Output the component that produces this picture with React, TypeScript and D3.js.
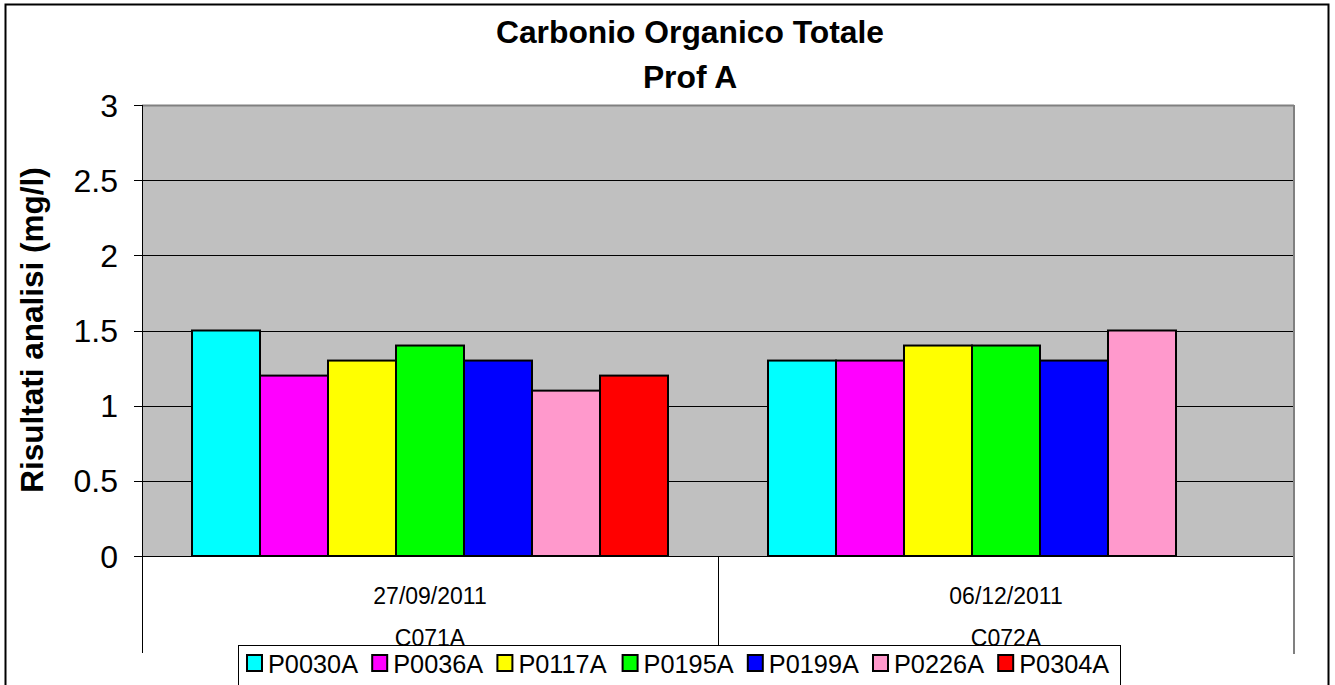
import React from "react";
import * as d3 from "d3";

const categories = ["27/09/2011", "06/12/2011"];
const campaigns = ["C071A", "C072A"];
const seriesNames = ["P0030A", "P0036A", "P0117A", "P0195A", "P0199A", "P0226A", "P0304A"];
const seriesColors = ["#00FFFF", "#FF00FF", "#FFFF00", "#00FF00", "#0000FF", "#FF99CC", "#FF0000"];
const valuesCat1 = [1.5, 1.2, 1.3, 1.4, 1.3, 1.1, 1.2];
const valuesCat2: (number | null)[] = [1.3, 1.3, 1.4, 1.4, 1.3, 1.5, null];
const yTicks = [0, 0.5, 1, 1.5, 2, 2.5, 3];

const W = 1335;
const H = 685;
const plot = { left: 142, right: 1294, top: 105, bottom: 556 };
const FONT = "Arial, 'Liberation Sans', Helvetica, sans-serif";

export default function App() {
  const values = [valuesCat1, valuesCat2];
  const x0 = d3.scaleBand<string>().domain(categories).range([plot.left, plot.right]).padding(0);
  const groupW = x0.bandwidth();
  const x1 = d3
    .scaleBand<string>()
    .domain(seriesNames)
    .range([50, groupW - 50])
    .padding(0);
  const y = d3.scaleLinear().domain([0, 3]).range([plot.bottom, plot.top]);

  const legendX = d3.scaleBand<string>().domain(seriesNames).range([247, 247 + 125.2 * 7]);

  return (
    <div style={{ position: "absolute", left: 0, top: 0 }}>
      <svg width={W} height={H} style={{ display: "block", fontFamily: FONT }}>
        <rect x={0} y={0} width={W} height={H} fill="#fff" />
        <rect x={5.5} y={4.5} width={1323} height={700} fill="#fff" stroke="#000" strokeWidth={2} />
        {/* Title */}
        <text x={690} y={43} textAnchor="middle" fontWeight="bold" fontSize={31.8}>
          Carbonio Organico Totale
        </text>
        <text x={690} y={88} textAnchor="middle" fontWeight="bold" fontSize={31.8}>
          Prof A
        </text>
        {/* Plot area */}
        <rect
          x={plot.left}
          y={plot.top}
          width={plot.right - plot.left}
          height={plot.bottom - plot.top}
          fill="#C0C0C0"
        />
        {/* gridlines */}
        {yTicks.map((t) => (
          <line
            key={"g" + t}
            x1={plot.left}
            x2={plot.right}
            y1={Math.round(y(t)) + 0.5}
            y2={Math.round(y(t)) + 0.5}
            stroke={t === 3 ? "#808080" : "#000"}
            strokeWidth={t === 3 ? 2 : 1}
          />
        ))}
        <line x1={plot.right} x2={plot.right} y1={plot.top} y2={plot.bottom} stroke="#808080" strokeWidth={2} />
        {/* Bars */}
        {categories.map((c, ci) =>
          seriesNames.map((s, si) => {
            const v = values[ci][si];
            if (v == null) return null;
            const bx = (x0(c) as number) + (x1(s) as number);
            return (
              <rect
                key={c + s}
                x={bx}
                y={y(v)}
                width={x1.bandwidth()}
                height={y(0) - y(v)}
                fill={seriesColors[si]}
                stroke="#000"
                strokeWidth={2}
              />
            );
          })
        )}
        {/* Y axis */}
        <line x1={plot.left + 0.5} x2={plot.left + 0.5} y1={plot.top} y2={653} stroke="#000" strokeWidth={1} />
        {yTicks.map((t) => (
          <g key={"t" + t}>
            <line
              x1={plot.left - 8}
              x2={plot.left}
              y1={Math.round(y(t)) + 0.5}
              y2={Math.round(y(t)) + 0.5}
              stroke="#000"
              strokeWidth={1}
            />
            <text x={118} y={y(t) + 11.5} textAnchor="end" fontSize={32}>
              {String(t)}
            </text>
          </g>
        ))}
        {/* X axis */}
        <line x1={plot.left} x2={plot.right} y1={plot.bottom + 0.5} y2={plot.bottom + 0.5} stroke="#000" strokeWidth={1} />
        <line
          x1={(x0(categories[1]) as number) + 0.5}
          x2={(x0(categories[1]) as number) + 0.5}
          y1={plot.bottom}
          y2={653}
          stroke="#000"
          strokeWidth={1}
        />
        <line x1={plot.right} x2={plot.right} y1={plot.bottom} y2={654} stroke="#808080" strokeWidth={2} />
        {categories.map((c, ci) => {
          const cx = (x0(c) as number) + groupW / 2;
          return (
            <g key={"c" + c}>
              <text x={cx} y={604} textAnchor="middle" fontSize={23}>
                {c}
              </text>
              <text x={cx} y={646} textAnchor="middle" fontSize={23}>
                {campaigns[ci]}
              </text>
            </g>
          );
        })}
        {/* Y label */}
        <text
          transform={`translate(43,330) rotate(-90)`}
          textAnchor="middle"
          fontWeight="bold"
          fontSize={31.5}
        >
          Risultati analisi (mg/l)
        </text>
        {/* Legend */}
        <rect x={238.5} y={645.5} width={882} height={40} fill="#fff" stroke="#000" strokeWidth={1} />
        {seriesNames.map((s, si) => {
          const lx = legendX(s) as number;
          return (
            <g key={"l" + s}>
              <rect x={lx} y={655} width={15} height={16} fill={seriesColors[si]} stroke="#000" strokeWidth={2} />
              <text x={lx + 21} y={673} fontSize={25.3}>
                {s}
              </text>
            </g>
          );
        })}
      </svg>
    </div>
  );
}
